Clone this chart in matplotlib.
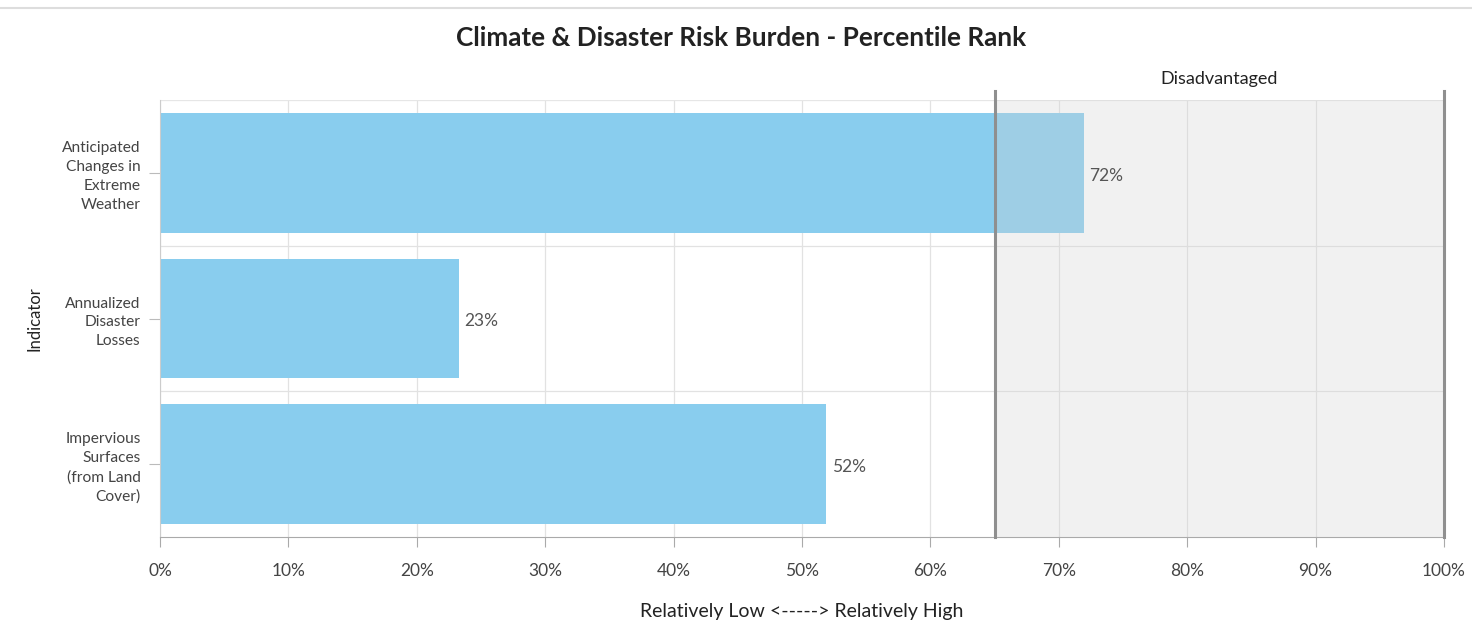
import matplotlib
matplotlib.use("Agg")
import matplotlib.pyplot as plt
from matplotlib.ticker import FuncFormatter

# ---- datos
indicators = ["Anticipated\nChanges in\nExtreme\nWeather",
              "Annualized\nDisaster\nLosses",
              "Impervious\nSurfaces\n(from Land\nCover)"]
percentiles = [72.0, 23.3, 51.9]
threshold = 65
x_ticks = [0, 10, 20, 30, 40, 50, 60, 70, 80, 90, 100]

plt.rcParams['font.family'] = ['Lato', 'DejaVu Sans']

fig = plt.figure(figsize=(14.72, 6.36), dpi=100)
ax = fig.add_axes([160 / 1472, 1 - 537 / 636, 1284 / 1472, 437 / 636])

pos = list(range(len(indicators)))
ax.barh(pos, percentiles, height=0.82, color='#89cdee', zorder=2)

# ---- zona desfavorecida
ax.axvspan(threshold, 100, color='#d2d2d2', alpha=0.29, lw=0, zorder=3)
for xv in (threshold, 100):
    ax.axvline(xv, ymin=0, ymax=1.02, color='#8f8f8f', lw=2.2,
               zorder=4, clip_on=False)
ax.text((threshold + 100) / 2, 1.03, 'Disadvantaged', transform=ax.get_xaxis_transform(),
        ha='center', va='bottom', fontsize=13, color='#222222')

for p, v in zip(pos, percentiles):
    ax.text(v + 0.4, p + 0.02, '%d%%' % round(v), va='center', ha='left',
            fontsize=12.5, color='#555555', zorder=5)

ax.set_xlim(0, 100)
ax.set_ylim(len(indicators) - 0.5, -0.5)
ax.set_xticks(x_ticks)
ax.xaxis.set_major_formatter(FuncFormatter(lambda v, _: '%d%%' % v))
ax.set_yticks(pos)
ax.set_yticklabels(indicators, ha='right', fontsize=11.2, color='#444444',
                   linespacing=1.45)

# ---- grid
for xv in x_ticks:
    ax.axvline(xv, color='#e2e2e2', lw=0.9, zorder=1)
for yb in (0.5, 1.5):
    ax.axhline(yb, color='#e2e2e2', lw=0.9, zorder=1)
ax.axhline(-0.5, color='#e6e6e6', lw=0.9, zorder=1)

ax.tick_params(axis='x', length=7, color='#aaaaaa', labelsize=12.5,
               labelcolor='#444444', pad=12)
ax.tick_params(axis='y', length=8, color='#bbbbbb', pad=6)

ax.spines['top'].set_visible(False)
ax.spines['right'].set_visible(False)
ax.spines['left'].set_color('#cccccc')
ax.spines['bottom'].set_color('#aaaaaa')

ax.set_xlabel('Relatively Low <-----> Relatively High', fontsize=14,
              color='#222222', labelpad=17)
ax.set_ylabel('Indicator', fontsize=12, color='#222222', labelpad=14)

fig.text(741 / 1472, 1 - 38 / 636, 'Climate & Disaster Risk Burden - Percentile Rank',
         ha='center', va='center', fontsize=18.8, fontweight='bold', color='#222222')

# ---- borde superior
fig.add_artist(plt.Line2D([0, 1], [1 - 8 / 636, 1 - 8 / 636], color='#dddddd', lw=1.5))

fig.savefig('out.png', dpi=100)
